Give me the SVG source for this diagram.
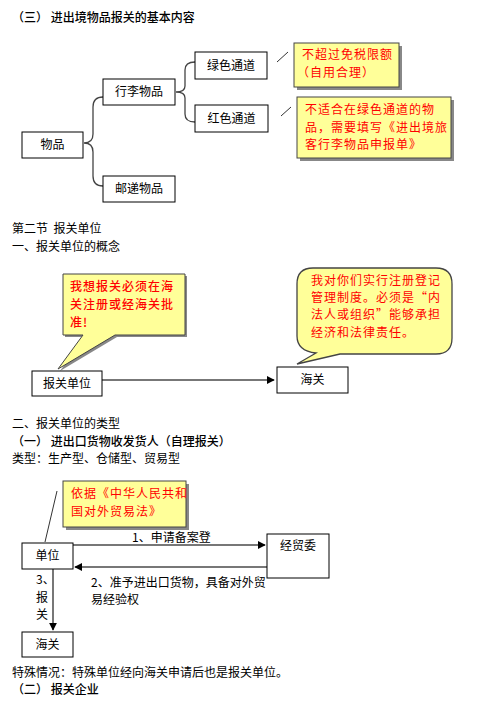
<svg xmlns="http://www.w3.org/2000/svg" width="479" height="705" viewBox="0 0 479 705">
<defs>
<style>
text{font-family:"Noto Sans CJK SC","Noto Sans",sans-serif;font-size:12px;fill:#000}
.box{fill:#fff;stroke:#000;stroke-width:1}
.c{text-anchor:middle}
.red{fill:#f00;font-size:12px;letter-spacing:1px}
.med{font-weight:500}
.note{fill:#ffff99;stroke:#444;stroke-width:1}
.shadow{fill:#888}
.brace{fill:none;stroke:#444;stroke-width:1.3}
.conn{fill:none;stroke:#777;stroke-width:2}
.thin{fill:none;stroke:#333;stroke-width:1}
</style>
<marker id="ah" viewBox="0 0 10 10" refX="9" refY="5" markerWidth="4" markerHeight="4" orient="auto" markerUnits="strokeWidth"><path d="M0,0 L10,5 L0,10 z" fill="#000"/></marker>
</defs>
<rect width="479" height="705" fill="#fff"/>

<!-- headings -->
<text x="12" y="22" class="med" xml:space="preserve">（三） 进出境物品报关的基本内容</text>
<text x="12" y="233" xml:space="preserve">第二节  报关单位</text>
<text x="12" y="251">一、报关单位的概念</text>
<text x="12" y="428">二、报关单位的类型</text>
<text x="12" y="446" class="med" xml:space="preserve">（一） 进出口货物收发货人（自理报关）</text>
<text x="12" y="463">类型：生产型、仓储型、贸易型</text>
<text x="12" y="677">特殊情况：特殊单位经向海关申请后也是报关单位。</text>
<text x="12" y="694" class="med" xml:space="preserve">（二） 报关企业</text>

<!-- connectors -->
<g id="connectors">
<path class="brace" d="M103,97 Q93,97 93,107 L93,134 Q93,143 84,143 Q93,143 93,152 L93,176 Q93,186 103,186"/>
<path class="brace" d="M195,62 Q185,62 185,70 L185,86 Q185,92 176,92 Q185,92 185,98 L185,114 Q185,122 195,122"/>
<line class="thin" x1="277" y1="62" x2="288" y2="52"/>
<line class="thin" x1="281" y1="116" x2="291" y2="107"/>
<line class="conn" x1="102" y1="380" x2="274" y2="380" marker-end="url(#ah)"/>
<line class="thin" x1="57" y1="491" x2="45" y2="542"/>
<line class="conn" x1="73" y1="545" x2="265" y2="545" marker-end="url(#ah)"/>
<line class="conn" x1="267" y1="567" x2="75" y2="567" marker-end="url(#ah)"/>
<line class="conn" x1="53" y1="568" x2="53" y2="630" marker-end="url(#ah)"/>
</g>

<!-- part 1 nodes -->
<g id="wupin"><rect class="box" x="22" y="132" width="61" height="26"/><text class="c" x="52.5" y="149">物品</text></g>
<g id="xingli"><rect class="box" x="103" y="79" width="72" height="26"/><text class="c" x="139" y="96">行李物品</text></g>
<g id="youdi"><rect class="box" x="103" y="176" width="72" height="26"/><text class="c" x="139" y="193">邮递物品</text></g>
<g id="lvse"><rect class="box" x="195" y="52" width="72" height="27"/><text class="c" x="231" y="70">绿色通道</text></g>
<g id="hongse"><rect class="box" x="195" y="105" width="73" height="27"/><text class="c" x="231.5" y="123">红色通道</text></g>
<g id="note1">
<rect class="shadow" x="297" y="46" width="105" height="44"/>
<rect class="note" x="294" y="43" width="105" height="44"/>
<text class="red" x="302" y="59">不超过免税限额</text>
<text class="red" x="297" y="77">（自用合理）</text>
</g>
<g id="note2">
<rect class="shadow" x="300" y="100" width="154" height="61"/>
<rect class="note" x="297" y="97" width="154" height="61"/>
<text class="red" x="305" y="114">不适合在绿色通道的物</text>
<text class="red" x="305" y="132">品，需要填写《进出境旅</text>
<text class="red" x="305" y="149">客行李物品申报单》</text>
</g>

<!-- part 2 nodes -->
<g id="callout1">
<polygon class="shadow" points="65,276 187,276 187,337 117,337 60,371 85,337 65,337"/>
<polygon class="note" points="63,274 185,274 185,335 115,335 58,369 83,335 63,335"/>
<text class="red med" x="70" y="291">我想报关必须在海</text>
<text class="red med" x="70" y="309">关注册或经海关批</text>
<text class="red med" x="70" y="327">准!</text>
</g>
<g id="callout2">
<path class="note" d="M313,268 L436,268 Q452,268 452,284 L452,338 Q452,354 436,354 L340,354 L297,364 L316,353 Q297,351 297,336 L297,284 Q297,268 313,268 Z" style="stroke-width:1.3"/>
<text class="red" x="311" y="285">我对你们实行注册登记</text>
<text class="red" x="311" y="302">管理制度。必须是“内</text>
<text class="red" x="311" y="319">法人或组织”能够承担</text>
<text class="red" x="311" y="337">经济和法律责任。</text>
</g>
<g id="baoguandanwei"><rect class="box" x="32" y="371" width="70" height="25"/><text class="c" x="67" y="388">报关单位</text></g>
<g id="haiguan1"><rect class="box" x="277" y="367" width="71" height="26"/><text class="c" x="312.5" y="384">海关</text></g>

<!-- part 3 nodes -->
<g id="note3">
<rect class="shadow" x="66" y="484" width="123" height="46"/>
<rect class="note" x="63" y="481" width="123" height="46"/>
<text class="red" x="71" y="498">依据《中华人民共和</text>
<text class="red" x="71" y="516">国对外贸易法》</text>
</g>
<g id="danwei"><rect class="box" x="22" y="543" width="51" height="26"/><text class="c" x="47.5" y="560">单位</text></g>
<g id="jingmaowei"><rect class="box" x="267" y="534" width="62" height="44"/><text class="c" x="298" y="550">经贸委</text></g>
<g id="haiguan2"><rect class="box" x="22" y="632" width="51" height="25"/><text class="c" x="47.5" y="649">海关</text></g>
<g id="labels">
<text x="132" y="542">1、申请备案登</text>
<text x="91" y="587">2、准予进出口货物，具备对外贸</text>
<text x="91" y="604">易经验权</text>
<text x="36" y="584">3、</text>
<text x="36" y="602">报</text>
<text x="36" y="619">关</text>
</g>
</svg>
